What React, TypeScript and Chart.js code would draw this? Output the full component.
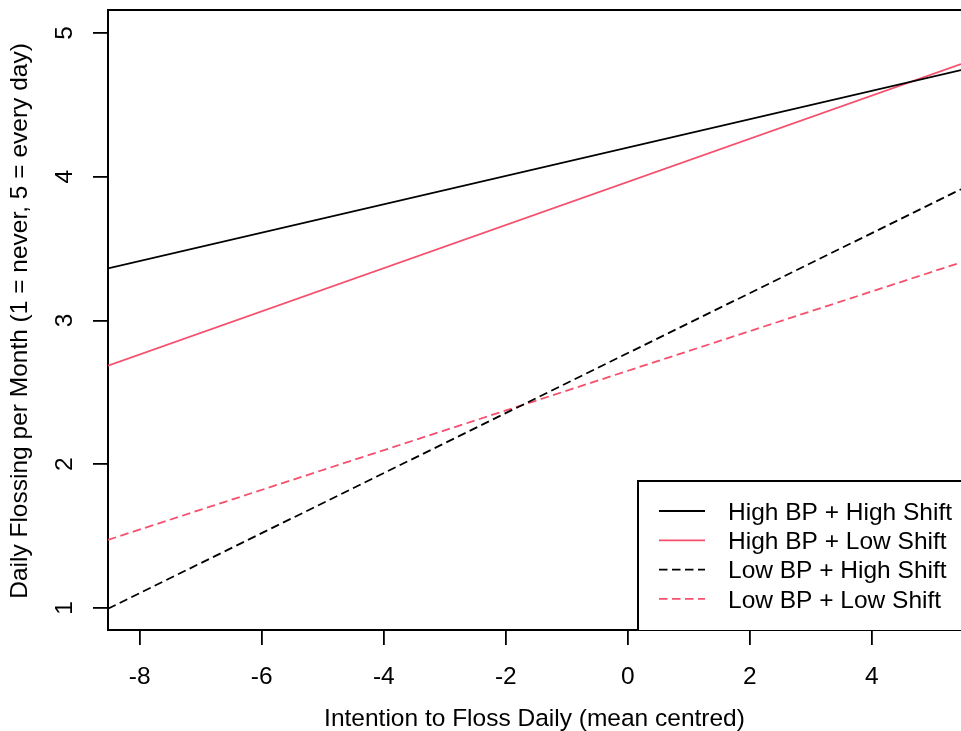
import React, { useEffect, useRef } from "react";
import { Chart, registerables } from "chart.js";

Chart.register(...registerables);

const X_MIN = -8.52;
const X_MAX = 5.46;
const Y_MIN = 0.847;
const Y_MAX = 5.16;

const xTicks = [-8, -6, -4, -2, 0, 2, 4];
const yTicks = [1, 2, 3, 4, 5];

const lineX = [X_MIN, X_MAX];
const highBPHighShift = [3.362, 4.742];
const highBPLowShift = [2.686, 4.784];
const lowBPHighShift = [0.995, 3.913];
const lowBPLowShift = [1.474, 3.404];

const seriesLabels = [
  "High BP + High Shift",
  "High BP + Low Shift",
  "Low BP + High Shift",
  "Low BP + Low Shift",
];

const xTitle = "Intention to Floss Daily (mean centred)";
const yTitle = "Daily Flossing per Month (1 = never, 5 = every day)";

const BLACK = "#000000";
const RED = "#F5506D";
const FONT = "24.5px 'Liberation Sans', Arial, sans-serif";

function toPoints(ys: number[]) {
  return ys.map((y, i) => ({ x: lineX[i], y }));
}

const overlayPlugin = {
  id: "overlay",
  afterDraw(chart: any) {
    const { ctx, chartArea, scales } = chart;
    const xs = scales.x;
    const ys = scales.y;
    ctx.save();
    // top border
    ctx.strokeStyle = BLACK;
    ctx.lineWidth = 2;
    ctx.beginPath();
    ctx.moveTo(chartArea.left - 1, chartArea.top);
    ctx.lineTo(chartArea.right + 2, chartArea.top);
    ctx.stroke();

    ctx.fillStyle = BLACK;
    ctx.font = FONT;
    // x tick labels
    ctx.textAlign = "center";
    ctx.textBaseline = "alphabetic";
    xTicks.forEach((v) => {
      ctx.fillText(String(v), xs.getPixelForValue(v), 684);
    });
    // x title
    ctx.fillText(xTitle, (chartArea.left + chartArea.right) / 2, 726);
    // y tick labels (rotated)
    yTicks.forEach((v) => {
      ctx.save();
      ctx.translate(72, ys.getPixelForValue(v));
      ctx.rotate(-Math.PI / 2);
      ctx.fillText(String(v), 0, 0);
      ctx.restore();
    });
    // y title
    ctx.save();
    ctx.translate(27, (chartArea.top + chartArea.bottom) / 2 + 1);
    ctx.rotate(-Math.PI / 2);
    ctx.fillText(yTitle, 0, 0);
    ctx.restore();

    // legend
    const boxL = 638;
    const boxT = 481;
    const boxB = chartArea.bottom;
    ctx.fillStyle = "#ffffff";
    ctx.fillRect(boxL, boxT, chartArea.right - boxL + 5, boxB - boxT);
    ctx.strokeStyle = BLACK;
    ctx.lineWidth = 2;
    ctx.beginPath();
    ctx.moveTo(chartArea.right + 5, boxT);
    ctx.lineTo(boxL, boxT);
    ctx.lineTo(boxL, boxB);
    ctx.stroke();
    chart.data.datasets.forEach((ds: any, i: number) => {
      const y = 511 + i * 29.3;
      ctx.strokeStyle = ds.borderColor;
      ctx.lineWidth = ds.borderWidth;
      ctx.setLineDash(ds.borderDash || []);
      ctx.beginPath();
      ctx.moveTo(659, y);
      ctx.lineTo(705, y);
      ctx.stroke();
      ctx.setLineDash([]);
      ctx.fillStyle = BLACK;
      ctx.textAlign = "left";
      ctx.textBaseline = "alphabetic";
      ctx.fillText(ds.label, 728, y + 8.8);
    });
    ctx.restore();
  },
};

export default function App() {
  const ref = useRef<HTMLCanvasElement | null>(null);
  useEffect(() => {
    if (!ref.current) return;
    const dash = [8.5, 4.5];
    const chart = new Chart(ref.current, {
      type: "line",
      data: {
        datasets: [
          { label: seriesLabels[0], data: toPoints(highBPHighShift), borderColor: BLACK, borderWidth: 1.8, pointRadius: 0 },
          { label: seriesLabels[1], data: toPoints(highBPLowShift), borderColor: RED, borderWidth: 1.8, pointRadius: 0 },
          { label: seriesLabels[2], data: toPoints(lowBPHighShift), borderColor: BLACK, borderWidth: 1.8, borderDash: dash, pointRadius: 0 },
          { label: seriesLabels[3], data: toPoints(lowBPLowShift), borderColor: RED, borderWidth: 1.8, borderDash: dash, pointRadius: 0 },
        ],
      },
      options: {
        responsive: false,
        animation: false,
        devicePixelRatio: 1,
        layout: { padding: { top: 10, right: 0, left: 0, bottom: 0 } },
        plugins: { legend: { display: false }, tooltip: { enabled: false } },
        scales: {
          x: {
            type: "linear",
            min: X_MIN,
            max: X_MAX,
            afterBuildTicks: (s: any) => {
              s.ticks = xTicks.map((v) => ({ value: v }));
            },
            afterFit: (s: any) => {
              s.height = 101;
            },
            ticks: { display: false },
            grid: { drawOnChartArea: false, drawTicks: true, tickLength: 15, color: BLACK, lineWidth: 1.8 },
            border: { display: true, color: BLACK, width: 2 },
          },
          y: {
            type: "linear",
            min: Y_MIN,
            max: Y_MAX,
            afterBuildTicks: (s: any) => {
              s.ticks = yTicks.map((v) => ({ value: v }));
            },
            afterFit: (s: any) => {
              s.width = 108;
            },
            ticks: { display: false },
            grid: { drawOnChartArea: false, drawTicks: true, tickLength: 15, color: BLACK, lineWidth: 1.8 },
            border: { display: true, color: BLACK, width: 2 },
          },
        },
      },
      plugins: [overlayPlugin],
    });
    return () => chart.destroy();
  }, []);
  return (
    <div style={{ position: "fixed", left: 0, top: 0, width: 961, height: 731, background: "#fff" }}>
      <canvas ref={ref} width={961} height={731} style={{ display: "block" }} />
    </div>
  );
}
